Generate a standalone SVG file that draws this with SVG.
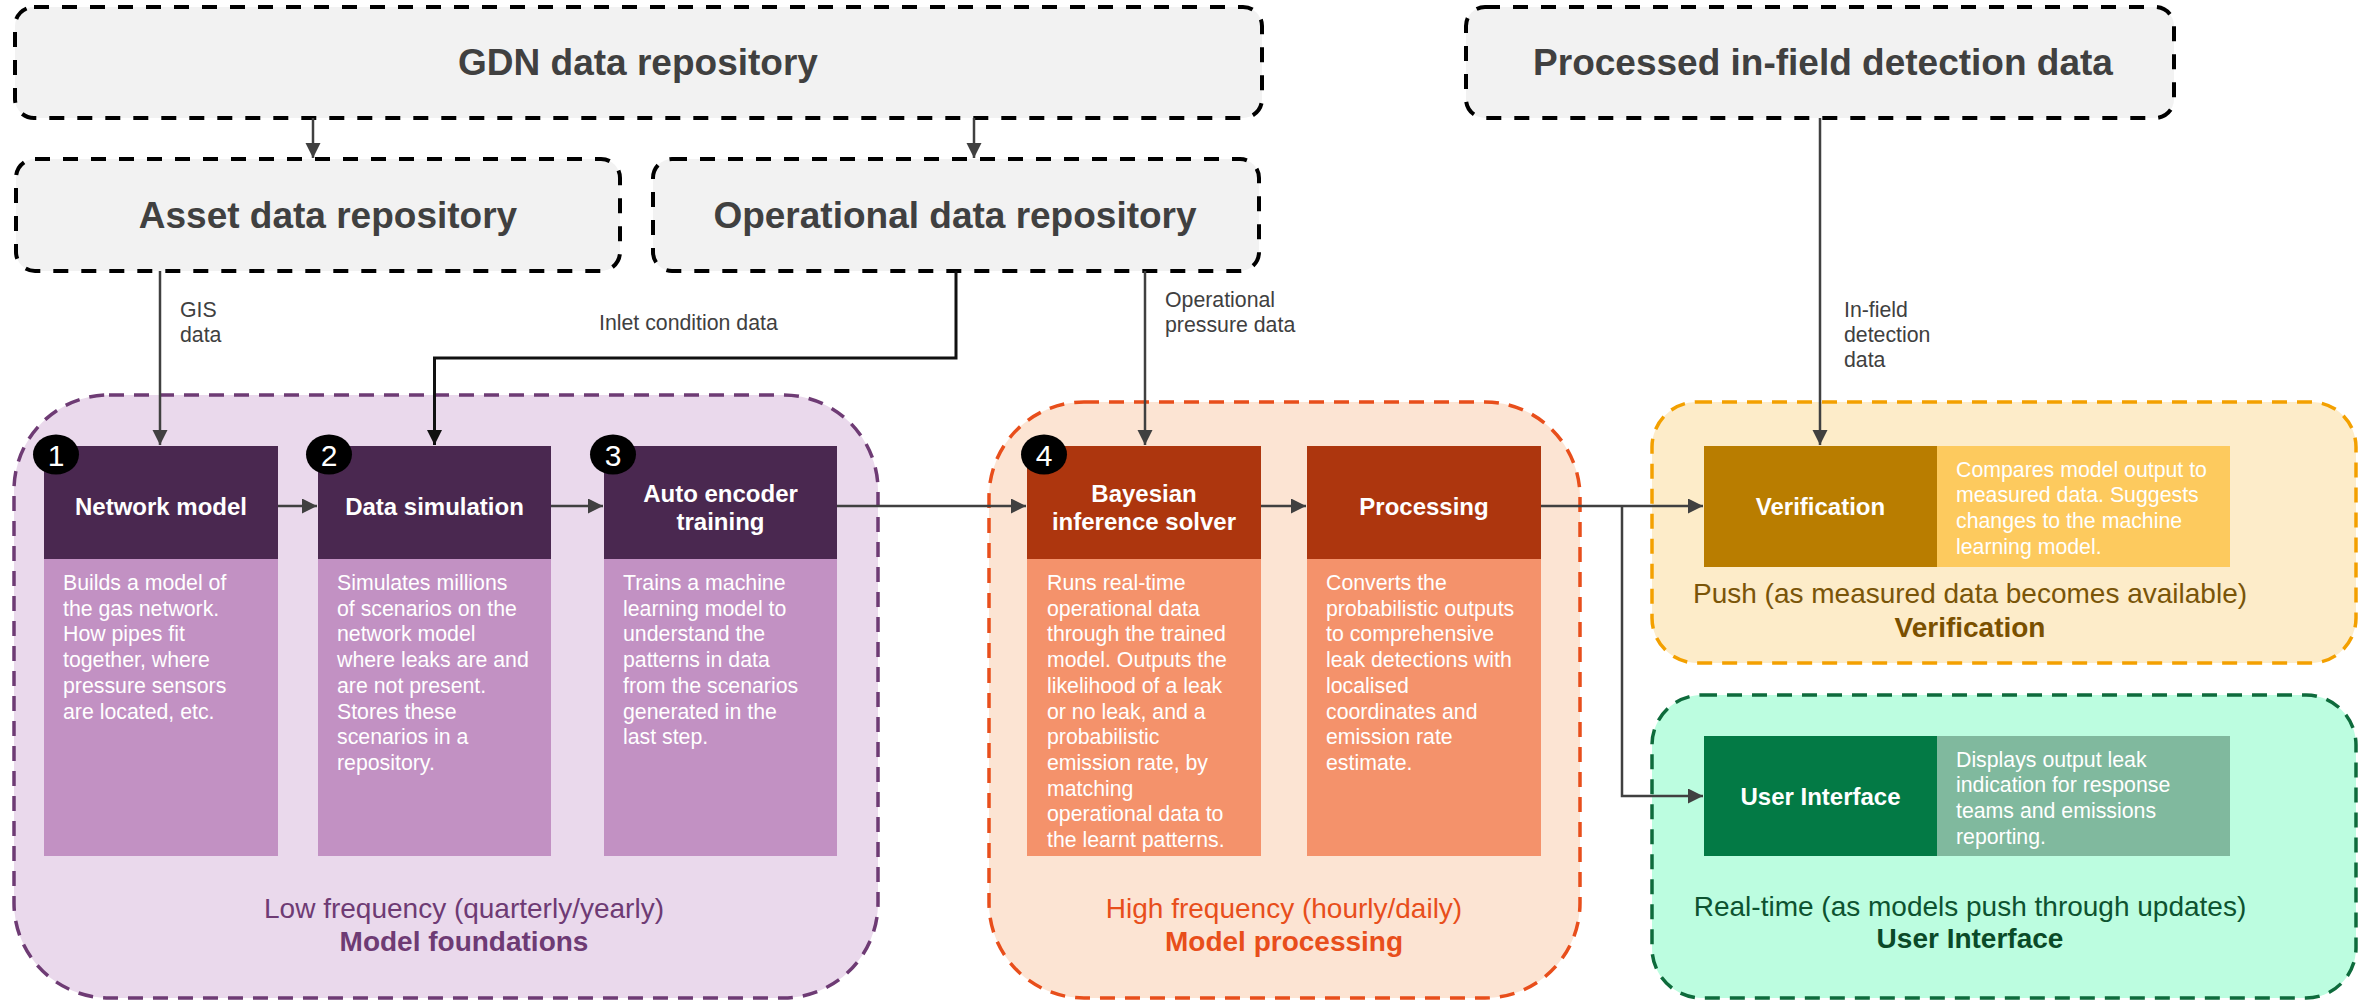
<svg xmlns="http://www.w3.org/2000/svg" width="2362" height="1000" viewBox="0 0 2362 1000">
  <defs>
    <marker id="arr" markerUnits="userSpaceOnUse" markerWidth="16" markerHeight="16" refX="15" refY="7.5" orient="auto">
      <path d="M0,0 L15,7.5 L0,15 z" fill="#404040"/>
    </marker>
    <marker id="arrDark" markerUnits="userSpaceOnUse" markerWidth="16" markerHeight="16" refX="15" refY="7.5" orient="auto">
      <path d="M0,0 L15,7.5 L0,15 z" fill="#111111"/>
    </marker>
    <style>
      text { font-family: "Liberation Sans", Arial, sans-serif; }
      .repo { fill: #f2f2f2; stroke: #000; stroke-width: 4; stroke-dasharray: 15 13; }
      .repoTxt { font-size: 37px; font-weight: bold; fill: #404040; text-anchor: middle; }
      .lbl { font-size: 21.3px; fill: #404040; }
      .head { font-size: 24px; font-weight: bold; fill: #fff; text-anchor: middle; }
      .body { font-size: 21.3px; fill: #fff; }
      .num { font-size: 30px; fill: #fff; text-anchor: middle; }
      .grp { stroke-width: 3.5; stroke-dasharray: 15 10; }
      .grpTxt { font-size: 28px; text-anchor: middle; }
      .grpBold { font-size: 28px; font-weight: bold; text-anchor: middle; }
      .conn { fill: none; stroke: #404040; stroke-width: 2.5; }
    </style>
  </defs>

  <!-- Stage containers -->
  <g id="stage-foundations">
    <rect class="grp" x="14" y="395" width="864" height="603" rx="95" fill="#ead9ec" stroke="#6e3b74"/>
    <text class="grpTxt" x="464" y="918" fill="#6e3b74">Low frequency (quarterly/yearly)</text>
    <text class="grpBold" x="464" y="951" fill="#6e3b74">Model foundations</text>
  </g>
  <g id="stage-processing">
    <rect class="grp" x="989" y="402" width="591" height="596" rx="95" fill="#fce4d3" stroke="#e84e1b"/>
    <text class="grpTxt" x="1284" y="918" fill="#e84e1b">High frequency (hourly/daily)</text>
    <text class="grpBold" x="1284" y="951" fill="#e84e1b">Model processing</text>
  </g>
  <g id="stage-verification">
    <rect class="grp" x="1652" y="402" width="704" height="261" rx="45" fill="#fdecc9" stroke="#f3a000"/>
    <text class="grpTxt" x="1970" y="603" fill="#7a5508">Push (as measured data becomes available)</text>
    <text class="grpBold" x="1970" y="637" fill="#7a5000">Verification</text>
  </g>
  <g id="stage-ui">
    <rect class="grp" x="1652" y="695" width="704" height="303" rx="50" fill="#bcfde0" stroke="#0e6b3c"/>
    <text class="grpTxt" x="1970" y="916" fill="#0d5330">Real-time (as models push through updates)</text>
    <text class="grpBold" x="1970" y="948" fill="#0a4a28">User Interface</text>
  </g>

  <!-- Data repositories -->
  <g id="gdn-repo">
    <rect class="repo" x="15" y="7" width="1247" height="111" rx="19"/>
    <text class="repoTxt" x="638" y="75">GDN data repository</text>
  </g>
  <g id="asset-repo">
    <rect class="repo" x="16" y="159" width="604" height="112" rx="19"/>
    <text class="repoTxt" x="328" y="228">Asset data repository</text>
  </g>
  <g id="operational-repo">
    <rect class="repo" x="653" y="159" width="606" height="112" rx="19"/>
    <text class="repoTxt" x="955" y="228">Operational data repository</text>
  </g>
  <g id="infield-repo">
    <rect class="repo" x="1466" y="7" width="708" height="111" rx="19"/>
    <text class="repoTxt" x="1823" y="75">Processed in-field detection data</text>
  </g>

  <!-- Connectors -->
  <g id="connectors">
    <line class="conn" x1="313" y1="118" x2="313" y2="158" marker-end="url(#arr)"/>
    <line class="conn" x1="974" y1="118" x2="974" y2="158" marker-end="url(#arr)"/>
    <line class="conn" x1="160" y1="271" x2="160" y2="445" marker-end="url(#arr)"/>
    <polyline fill="none" stroke="#111" stroke-width="3" points="956,271 956,358 434.5,358 434.5,445" marker-end="url(#arrDark)"/>
    <line class="conn" x1="1145" y1="271" x2="1145" y2="445" marker-end="url(#arr)"/>
    <line class="conn" x1="1820" y1="118" x2="1820" y2="445" marker-end="url(#arr)"/>
    <line class="conn" x1="278" y1="506" x2="317" y2="506" marker-end="url(#arr)"/>
    <line class="conn" x1="551" y1="506" x2="603" y2="506" marker-end="url(#arr)"/>
    <line class="conn" x1="837" y1="506" x2="1026" y2="506" marker-end="url(#arr)"/>
    <line class="conn" x1="1261" y1="506" x2="1306" y2="506" marker-end="url(#arr)"/>
    <line class="conn" x1="1541" y1="506" x2="1703" y2="506" marker-end="url(#arr)"/>
    <polyline class="conn" points="1622,506 1622,796 1703,796" marker-end="url(#arr)"/>
    <text class="lbl" x="180" y="317">GIS</text>
    <text class="lbl" x="180" y="342">data</text>
    <text class="lbl" x="599" y="330">Inlet condition data</text>
    <text class="lbl" x="1165" y="307">Operational</text>
    <text class="lbl" x="1165" y="332">pressure data</text>
    <text class="lbl" x="1844" y="317">In-field</text>
    <text class="lbl" x="1844" y="342">detection</text>
    <text class="lbl" x="1844" y="367">data</text>
  </g>

  <!-- Step 1 -->
  <g id="network-model">
    <rect x="44" y="446" width="234" height="113" fill="#4a2850"/>
    <rect x="44" y="559" width="234" height="297" fill="#c291c3"/>
    <text class="head" x="161" y="515">Network model</text>
    <text class="body" x="63" y="590">
      <tspan x="63">Builds a model of</tspan>
      <tspan x="63" dy="25.7">the gas network.</tspan>
      <tspan x="63" dy="25.7">How pipes fit</tspan>
      <tspan x="63" dy="25.7">together, where</tspan>
      <tspan x="63" dy="25.7">pressure sensors</tspan>
      <tspan x="63" dy="25.7">are located, etc.</tspan>
    </text>
    <ellipse cx="56" cy="454.5" rx="23" ry="20" fill="#000"/>
    <text class="num" x="56" y="465.5">1</text>
  </g>

  <!-- Step 2 -->
  <g id="data-simulation">
    <rect x="318" y="446" width="233" height="113" fill="#4a2850"/>
    <rect x="318" y="559" width="233" height="297" fill="#c291c3"/>
    <text class="head" x="434.5" y="515">Data simulation</text>
    <text class="body" x="337" y="590">
      <tspan x="337">Simulates millions</tspan>
      <tspan x="337" dy="25.7">of scenarios on the</tspan>
      <tspan x="337" dy="25.7">network model</tspan>
      <tspan x="337" dy="25.7">where leaks are and</tspan>
      <tspan x="337" dy="25.7">are not present.</tspan>
      <tspan x="337" dy="25.7">Stores these</tspan>
      <tspan x="337" dy="25.7">scenarios in a</tspan>
      <tspan x="337" dy="25.7">repository.</tspan>
    </text>
    <ellipse cx="329" cy="454.5" rx="23" ry="20" fill="#000"/>
    <text class="num" x="329" y="465.5">2</text>
  </g>

  <!-- Step 3 -->
  <g id="auto-encoder">
    <rect x="604" y="446" width="233" height="113" fill="#4a2850"/>
    <rect x="604" y="559" width="233" height="297" fill="#c291c3"/>
    <text class="head" x="720.5" y="502">Auto encoder</text>
    <text class="head" x="720.5" y="530">training</text>
    <text class="body" x="623" y="590">
      <tspan x="623">Trains a machine</tspan>
      <tspan x="623" dy="25.7">learning model to</tspan>
      <tspan x="623" dy="25.7">understand the</tspan>
      <tspan x="623" dy="25.7">patterns in data</tspan>
      <tspan x="623" dy="25.7">from the scenarios</tspan>
      <tspan x="623" dy="25.7">generated in the</tspan>
      <tspan x="623" dy="25.7">last step.</tspan>
    </text>
    <ellipse cx="613" cy="454.5" rx="23" ry="20" fill="#000"/>
    <text class="num" x="613" y="465.5">3</text>
  </g>

  <!-- Step 4 -->
  <g id="bayesian-solver">
    <rect x="1027" y="446" width="234" height="113" fill="#ad360e"/>
    <rect x="1027" y="559" width="234" height="297" fill="#f4926b"/>
    <text class="head" x="1144" y="502">Bayesian</text>
    <text class="head" x="1144" y="530">inference solver</text>
    <text class="body" x="1047" y="590">
      <tspan x="1047">Runs real-time</tspan>
      <tspan x="1047" dy="25.7">operational data</tspan>
      <tspan x="1047" dy="25.7">through the trained</tspan>
      <tspan x="1047" dy="25.7">model. Outputs the</tspan>
      <tspan x="1047" dy="25.7">likelihood of a leak</tspan>
      <tspan x="1047" dy="25.7">or no leak, and a</tspan>
      <tspan x="1047" dy="25.7">probabilistic</tspan>
      <tspan x="1047" dy="25.7">emission rate, by</tspan>
      <tspan x="1047" dy="25.7">matching</tspan>
      <tspan x="1047" dy="25.7">operational data to</tspan>
      <tspan x="1047" dy="25.7">the learnt patterns.</tspan>
    </text>
    <ellipse cx="1044" cy="454.5" rx="23" ry="20" fill="#000"/>
    <text class="num" x="1044" y="465.5">4</text>
  </g>

  <g id="processing">
    <rect x="1307" y="446" width="234" height="113" fill="#ad360e"/>
    <rect x="1307" y="559" width="234" height="297" fill="#f4926b"/>
    <text class="head" x="1424" y="515">Processing</text>
    <text class="body" x="1326" y="590">
      <tspan x="1326">Converts the</tspan>
      <tspan x="1326" dy="25.7">probabilistic outputs</tspan>
      <tspan x="1326" dy="25.7">to comprehensive</tspan>
      <tspan x="1326" dy="25.7">leak detections with</tspan>
      <tspan x="1326" dy="25.7">localised</tspan>
      <tspan x="1326" dy="25.7">coordinates and</tspan>
      <tspan x="1326" dy="25.7">emission rate</tspan>
      <tspan x="1326" dy="25.7">estimate.</tspan>
    </text>
  </g>

  <g id="verification">
    <rect x="1704" y="446" width="233" height="121" fill="#b97d00"/>
    <rect x="1937" y="446" width="293" height="121" fill="#fdca5e"/>
    <text class="head" x="1820.5" y="515">Verification</text>
    <text class="body" x="1956" y="476.5">
      <tspan x="1956">Compares model output to</tspan>
      <tspan x="1956" dy="25.7">measured data. Suggests</tspan>
      <tspan x="1956" dy="25.7">changes to the machine</tspan>
      <tspan x="1956" dy="25.7">learning model.</tspan>
    </text>
  </g>

  <g id="user-interface">
    <rect x="1704" y="736" width="233" height="120" fill="#037a45"/>
    <rect x="1937" y="736" width="293" height="120" fill="#80b99e"/>
    <text class="head" x="1820.5" y="805">User Interface</text>
    <text class="body" x="1956" y="766.5">
      <tspan x="1956">Displays output leak</tspan>
      <tspan x="1956" dy="25.7">indication for response</tspan>
      <tspan x="1956" dy="25.7">teams and emissions</tspan>
      <tspan x="1956" dy="25.7">reporting.</tspan>
    </text>
  </g>
</svg>
